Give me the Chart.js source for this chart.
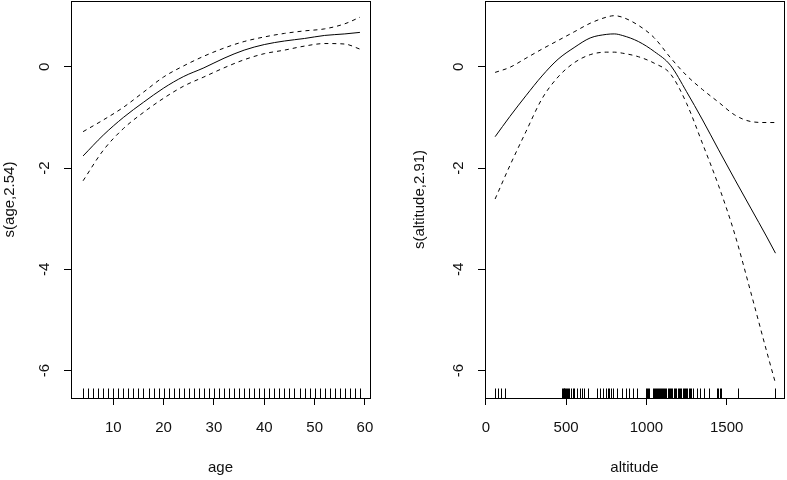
<!DOCTYPE html>
<html>
<head>
<meta charset="utf-8">
<script src="https://cdn.jsdelivr.net/npm/chart.js@4/dist/chart.umd.min.js"></script>
<style>
  html, body { margin: 0; padding: 0; background: #fff; }
  #wrap { position: relative; width: 787px; height: 480px; overflow: hidden; }
  canvas { position: absolute; top: 0; }
</style>
</head>
<body>
<div id="wrap">
  <canvas id="c1" width="400" height="480" style="left:0"></canvas>
  <canvas id="c2" width="387" height="480" style="left:400px"></canvas>
</div>
<script>
// ---- Data: panel 1 (age) ----
const ageX     = [4, 8, 12, 16, 20, 24, 28, 32, 36, 40, 44, 48, 52, 56, 59];
const ageFit   = [-1.76, -1.35, -1.00, -0.70, -0.42, -0.19, -0.02, 0.17, 0.33, 0.44, 0.51, 0.56, 0.62, 0.65, 0.68];
const ageUpper = [-1.28, -1.05, -0.80, -0.50, -0.20, 0.02, 0.21, 0.37, 0.50, 0.59, 0.66, 0.71, 0.75, 0.85, 0.98];
const ageLower = [-2.25, -1.65, -1.22, -0.90, -0.62, -0.38, -0.20, -0.02, 0.14, 0.26, 0.33, 0.41, 0.46, 0.45, 0.35];
const ageRug   = [4,5,6,7,8,9,10,11,12,13,14,15,16,17,18,19,20,21,22,23,24,25,26,27,28,29,30,31,
                  32,33,34,35,36,37,38,39,40,41,42,43,44,45,46,47,48,49,50,51,52,53,54,55,56,57,58,59];
const ageTicks = [10, 20, 30, 40, 50, 60];

// ---- Data: panel 2 (altitude) ----
const altX     = [58, 150, 250, 350, 450, 550, 650, 750, 800, 850, 950, 1050, 1150, 1250, 1350, 1450, 1550, 1650, 1750, 1804];
const altFit   = [-1.38, -0.98, -0.57, -0.18, 0.15, 0.38, 0.57, 0.64, 0.65, 0.62, 0.50, 0.30, 0.03, -0.49, -1.05, -1.64, -2.22, -2.79, -3.36, -3.68];
const altUpper = [-0.11, -0.01, 0.17, 0.35, 0.52, 0.69, 0.86, 0.98, 1.01, 0.98, 0.82, 0.57, 0.18, -0.17, -0.45, -0.70, -0.95, -1.08, -1.10, -1.10];
const altLower = [-2.61, -1.95, -1.28, -0.63, -0.20, 0.08, 0.24, 0.29, 0.29, 0.27, 0.20, 0.07, -0.14, -0.72, -1.52, -2.35, -3.30, -4.45, -5.63, -6.25];
const altRug   = [58, 79, 92, 117,
                  475, 480, 485, 490, 495, 500, 505, 510, 520, 530, 540, 550,
                  571, 586, 600, 612, 638,
                  690, 711, 732, 746, 760, 768, 777, 794, 815, 846, 875, 894, 915, 940,
                  996, 1003, 1010, 1019,
                  1040, 1046, 1052, 1058, 1064, 1070, 1076, 1082, 1090, 1096, 1102, 1110, 1118, 1125, 1132,
                  1140, 1148, 1155, 1162, 1170, 1178, 1186, 1195, 1202, 1210, 1218, 1225, 1232, 1240, 1248,
                  1256, 1264, 1272, 1280, 1288,
                  1315, 1336, 1356, 1388, 1440, 1448, 1458, 1465, 1571, 1804];
const altTicks = [0, 500, 1000, 1500];

// ---- shared y axis ----
const yTicks = [-6, -4, -2, 0];
const yMin = -6.54, yMax = 1.30;

const FONT = '"Liberation Sans", Arial, Helvetica, sans-serif';
const INK = '#111';

function pts(xs, ys) { return xs.map((x, i) => ({ x: x, y: ys[i] })); }

function makeDs(xs, ys, dashed) {
  return {
    data: pts(xs, ys),
    showLine: true,
    borderColor: '#000',
    borderWidth: 1,
    borderDash: dashed ? [4, 4] : [],
    pointRadius: 0,
    cubicInterpolationMode: 'monotone',
    fill: false
  };
}

const gamPlugin = {
  id: 'gamPlugin',
  afterDraw(chart) {
    const { ctx, chartArea: a, scales } = chart;
    const xs = scales.x, ys = scales.y;
    const rug = chart.options.plugins.gamPlugin.rug;
    ctx.save();
    ctx.strokeStyle = '#000';
    ctx.lineWidth = 1;
    ctx.setLineDash([]);
    // box
    const L = Math.round(a.left) + 0.5, T = Math.round(a.top) + 0.5;
    const R = Math.round(a.right) + 0.5, B = Math.round(a.bottom) + 0.5;
    ctx.strokeRect(L, T, R - L, B - T);
    // rug
    ctx.beginPath();
    rug.forEach(v => {
      const px = Math.round(xs.getPixelForValue(v)) + 0.5;
      ctx.moveTo(px, B);
      ctx.lineTo(px, B - 10);
    });
    ctx.stroke();
    // rotated y tick labels
    ctx.fillStyle = INK;
    ctx.font = '15px ' + FONT;
    ctx.textAlign = 'center';
    ctx.textBaseline = 'middle';
    ys.ticks.forEach(t => {
      const py = ys.getPixelForValue(t.value);
      ctx.save();
      ctx.translate(a.left - 26, py);
      ctx.rotate(-Math.PI / 2);
      ctx.fillText(String(t.value), 0, 0);
      ctx.restore();
    });
    ctx.restore();
  }
};

function makeChart(id, xs, fit, upper, lower, rug, xTicks, xMin, xMax, xTitle, yTitle, yWidth, padRight, yTitlePad) {
  return new Chart(document.getElementById(id), {
    type: 'scatter',
    data: { datasets: [makeDs(xs, fit, false), makeDs(xs, upper, true), makeDs(xs, lower, true)] },
    options: {
      responsive: false,
      animation: false,
      devicePixelRatio: 1,
      layout: { padding: { top: 1, right: padRight, bottom: 0, left: 0 } },
      plugins: {
        legend: { display: false },
        tooltip: { enabled: false },
        gamPlugin: { rug: rug }
      },
      scales: {
        x: {
          type: 'linear',
          min: xMin, max: xMax,
          afterBuildTicks: s => { s.ticks = xTicks.map(v => ({ value: v })); },
          afterFit: s => { s.height = 82; },
          grid: { display: true, drawOnChartArea: false, drawTicks: true, tickLength: 7, color: '#000', lineWidth: 1 },
          border: { display: false },
          ticks: { color: INK, font: { family: FONT, size: 15 }, padding: 14, maxRotation: 0, autoSkip: false,
                   callback: v => String(v) },
          title: { display: true, text: xTitle, color: INK, font: { family: FONT, size: 15 }, padding: { top: 0, bottom: 3 } }
        },
        y: {
          type: 'linear',
          min: yMin, max: yMax,
          afterBuildTicks: s => { s.ticks = yTicks.map(v => ({ value: v })); },
          afterFit: s => { s.width = yWidth; },
          grid: { display: true, drawOnChartArea: false, drawTicks: true, tickLength: 7, color: '#000', lineWidth: 1 },
          border: { display: false },
          ticks: { display: false },
          title: { display: true, text: yTitle, color: INK, font: { family: FONT, size: 15 }, padding: { top: yTitlePad, bottom: 0 } }
        }
      }
    },
    plugins: [gamPlugin]
  });
}

makeChart('c1', ageX, ageFit, ageUpper, ageLower, ageRug, ageTicks, 1.6, 61.0, 'age', 's(age,2.54)', 71, 30, 1);
makeChart('c2', altX, altFit, altUpper, altLower, altRug, altTicks, -5, 1857, 'altitude', 's(altitude,2.91)', 85, 3, 11);
</script>
</body>
</html>
